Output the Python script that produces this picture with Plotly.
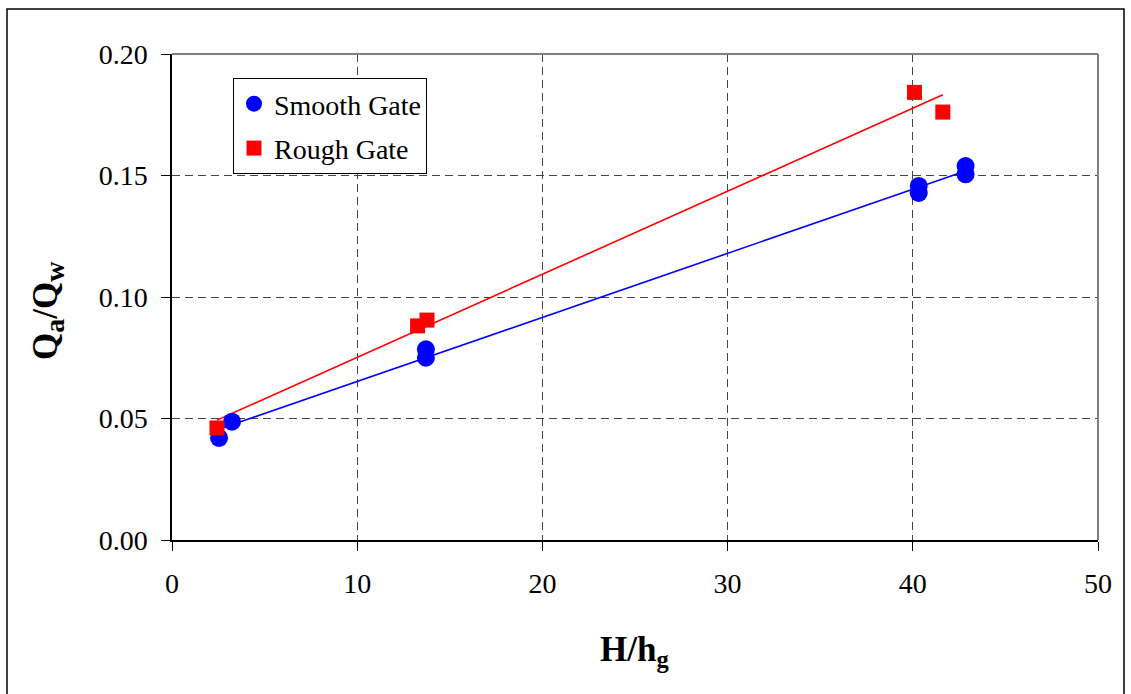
import numpy as np
import plotly.graph_objects as go

# Smooth gate measurements
smooth_x = [2.54, 3.24, 13.71, 13.71, 40.32, 40.32, 42.85, 42.85]
smooth_y = [0.0420, 0.0487, 0.0785, 0.0750, 0.1457, 0.1428, 0.1539, 0.1505]

# Rough gate measurements
rough_x = [2.43, 13.26, 13.77, 40.09, 41.62]
rough_y = [0.0461, 0.0881, 0.0905, 0.1842, 0.1761]

x_ticks = [0, 10, 20, 30, 40, 50]
y_ticks = [0.00, 0.05, 0.10, 0.15, 0.20]

FONT = "Liberation Serif"
W, H = 1131, 694
ML, MR, MT, MB = 172, 33, 54, 154
PW, PH = W - ML - MR, H - MT - MB


def px_to_paper(px, py):
    return (px - ML) / PW, (H - MB - py) / PH


def fit_line(xs, ys):
    slope, intercept = np.polyfit(xs, ys, 1)
    xs_line = np.array([min(xs), max(xs)])
    return xs_line, slope * xs_line + intercept


fig = go.Figure()

sx, sy = fit_line(smooth_x, smooth_y)
rx, ry = fit_line(rough_x, rough_y)

fig.add_trace(go.Scatter(x=sx, y=sy, mode="lines", line=dict(color="#0000FF", width=1.6),
                         showlegend=False, hoverinfo="skip"))
fig.add_trace(go.Scatter(x=rx, y=ry, mode="lines", line=dict(color="#FF0000", width=1.6),
                         showlegend=False, hoverinfo="skip"))

fig.add_trace(go.Scatter(x=smooth_x, y=smooth_y, mode="markers", name="Smooth Gate",
                         legendgroup="smooth",
                         marker=dict(symbol="circle", size=18, color="#0000FF")))
fig.add_trace(go.Scatter(x=rough_x, y=rough_y, mode="markers", name="Rough Gate",
                         legendgroup="rough",
                         marker=dict(symbol="square", size=15, color="#FF0000")))

axis_common = dict(
    showgrid=True, gridcolor="#444444", gridwidth=1, griddash="8px,5px",
    zeroline=False, showline=True, linecolor="black", linewidth=1.5,
    ticks="outside", ticklen=9, tickcolor="black", tickwidth=1.2,
    tickfont=dict(family=FONT, size=28, color="black"),
)

fig.update_xaxes(range=[0, 50], tickvals=x_ticks, ticktext=[str(v) for v in x_ticks],
                 ticklabelstandoff=9, **axis_common)
fig.update_yaxes(range=[0, 0.20], tickvals=y_ticks, ticktext=[f"{v:.2f}" for v in y_ticks],
                 ticklabelstandoff=8, **axis_common)

# axis titles
title_font = dict(family=FONT, size=35, color="black")
xt_x, xt_y = px_to_paper(634, 651)
yt_x, yt_y = px_to_paper(48, 310)
annotations = [
    dict(text="<b>H/h<sub>g</sub></b>", xref="paper", yref="paper", x=xt_x, y=xt_y,
         xanchor="center", yanchor="middle", showarrow=False, font=title_font),
    dict(text="<b>Q<sub><span style='font-size:28px'>a</span></sub>/Q"
              "<sub><span style='font-size:28px'>w</span></sub></b>",
         xref="paper", yref="paper", x=yt_x, y=yt_y, textangle=-90,
         xanchor="center", yanchor="middle", showarrow=False, font=title_font),
]

# plot-area border (top and right) and outer chart frame
fx0, fy0 = px_to_paper(7, 9)
fx1, fy1 = px_to_paper(1124, 720)
shapes = [
    dict(type="line", xref="paper", yref="paper", x0=0, x1=1, y0=1, y1=1,
         line=dict(color="#808080", width=2)),
    dict(type="line", xref="paper", yref="paper", x0=1, x1=1, y0=0, y1=1,
         line=dict(color="#808080", width=2)),
    dict(type="rect", xref="paper", yref="paper", x0=fx0, x1=fx1, y0=fy1, y1=fy0,
         line=dict(color="black", width=1.5), layer="below"),
]

lx, ly = px_to_paper(233, 78)
fig.update_layout(
    width=W, height=H,
    margin=dict(l=ML, r=MR, t=MT, b=MB),
    paper_bgcolor="white", plot_bgcolor="white",
    font=dict(family=FONT, color="black"),
    shapes=shapes,
    annotations=annotations,
    legend=dict(x=lx, y=ly, xanchor="left", yanchor="top",
                bgcolor="white", bordercolor="black", borderwidth=1,
                font=dict(family=FONT, size=28, color="black"),
                itemwidth=30, tracegroupgap=5),
)

fig.write_html("out.html")
